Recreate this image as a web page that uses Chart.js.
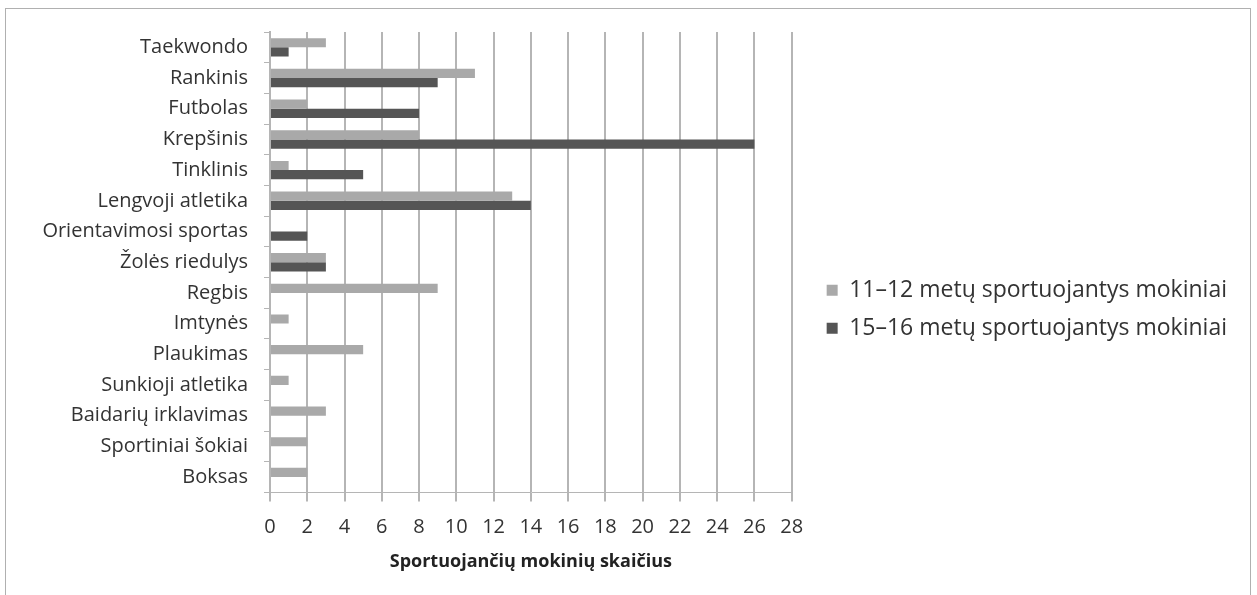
<!DOCTYPE html>
<html lang="lt">
  <head>
    <meta charset="UTF-8" />
    <title>Sportuojančių mokinių skaičius</title>
    <script src="https://cdn.jsdelivr.net/npm/chart.js"></script>
    <style>
      body { margin: 0; background: #fff; }
      #wrap { position: relative; width: 1257px; height: 595px; }
      #frame {
        position: absolute; left: 5px; top: 8px; width: 1244px; height: 590px;
        border: 1px solid #b0b0b0; pointer-events: none;
      }
    </style>
  </head>
  <body>
    <div id="wrap">
      <canvas id="sportChart" width="1257" height="595"></canvas>
      <div id="frame"></div>
    </div>

    <script>
      const sports = [
        "Taekwondo", "Rankinis", "Futbolas", "Krepšinis", "Tinklinis",
        "Lengvoji atletika", "Orientavimosi sportas", "Žolės riedulys", "Regbis",
        "Imtynės", "Plaukimas", "Sunkioji atletika", "Baidarių irklavimas",
        "Sportiniai šokiai", "Boksas"
      ];
      const younger = [3, 11, 2, 8, 1, 13, 0, 3, 9, 1, 5, 1, 3, 2, 2];
      const older = [1, 9, 8, 26, 5, 14, 2, 3, 0, 0, 0, 0, 0, 0, 0];
      const seriesNames = ["11–12 metų sportuojantys mokiniai", "15–16 metų sportuojantys mokiniai"];
      const axisTitle = "Sportuojančių mokinių skaičius";

      const font = "'Open Sans', 'Liberation Sans', sans-serif";

      new Chart(document.getElementById("sportChart"), {
        type: "bar",
        data: {
          labels: sports,
          datasets: [
            { label: seriesNames[0], data: younger, backgroundColor: "#a9a9a9" },
            { label: seriesNames[1], data: older, backgroundColor: "#555555" },
          ],
        },
        options: {
          indexAxis: "y",
          responsive: false,
          animation: false,
          categoryPercentage: 0.6,
          barPercentage: 1,
          layout: { padding: { left: 20, top: 32, right: 20, bottom: 18 } },
          plugins: {
            tooltip: { enabled: false },
            legend: {
              position: "right",
              maxWidth: 700,
              // blank title only nudges the items down a little
              title: { display: true, text: " ", font: { size: 8 }, padding: 0 },
              labels: {
                font: { family: font, size: 23 },
                color: "#333",
                boxWidth: 11,
                boxHeight: 11,
                padding: 15,
              },
            },
          },
          scales: {
            x: {
              min: 0,
              max: 28,
              ticks: { stepSize: 2, font: { family: font, size: 20 }, color: "#333", padding: 14 },
              grid: { color: "#b5b5b5", lineWidth: 2, tickLength: 9 },
              border: { color: "#b5b5b5" },
              title: {
                display: true,
                text: axisTitle,
                font: { family: font, size: 18, weight: "bold" },
                color: "#222",
                padding: { top: -2, bottom: 4 },
              },
            },
            y: {
              ticks: { font: { family: font, size: 20 }, color: "#333", padding: 16 },
              grid: { offset: true, drawOnChartArea: false, tickLength: 6, color: "#b5b5b5" },
              border: { color: "#b5b5b5", width: 2 },
              afterFit(scale) { scale.width = 250; },
            },
            // empty spacer between the plot and the legend
            gap: {
              type: "linear",
              position: "right",
              ticks: { display: false },
              grid: { drawOnChartArea: false, drawTicks: false },
              border: { display: false },
              afterFit(scale) { scale.width = 20; },
            },
          },
        },
      });
    </script>
  </body>
</html>
